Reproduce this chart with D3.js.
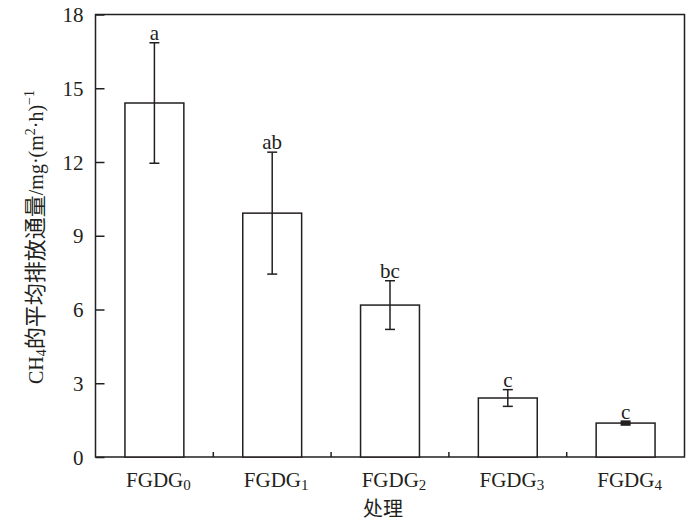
<!DOCTYPE html>
<html><head><meta charset="utf-8">
<script src="https://cdn.jsdelivr.net/npm/d3@7"></script>
<style>body{margin:0;background:#fff}svg{display:block}</style>
</head><body>
<svg id="c" width="700" height="524"></svg>
<script>
const categories = ["FGDG0","FGDG1","FGDG2","FGDG3","FGDG4"];
const subs = ["0","1","2","3","4"];
const means = [14.4, 9.92, 6.18, 2.4, 1.38];
const errors = [2.45, 2.48, 0.99, 0.34, 0.05];
const letters = ["a","ab","bc","c","c"];
const yTicks = [0,3,6,9,12,15,18];

const svg = d3.select("#c");
const m = {l:95.5, r:684.5, t:14.5, b:457};
const x = d3.scaleBand().domain(categories).range([m.l, m.r]).paddingInner(0.5).paddingOuter(0.25);
const y = d3.scaleLinear().domain([0,18]).range([m.b, m.t]);
const font = "'Liberation Serif','Times New Roman',serif";
const cjk = "'Noto Sans CJK SC',sans-serif";
const col = "#231f20";

// frame
svg.append("rect").attr("x",m.l).attr("y",m.t).attr("width",m.r-m.l).attr("height",m.b-m.t)
  .attr("fill","none").attr("stroke",col).attr("stroke-width",1.5);

// y axis
const ya = svg.append("g").attr("transform",`translate(${m.l},0)`)
  .call(d3.axisRight(y).tickValues(yTicks).tickSize(9).tickFormat(d3.format("d")));
ya.select(".domain").remove();
ya.selectAll("line").attr("stroke",col).attr("stroke-width",1.5);
ya.selectAll("text").attr("x",-12).attr("text-anchor","end").attr("font-family",font).attr("font-size",21).attr("fill",col).attr("dy","0.34em");

// x ticks between categories
const step = x.step();
const bounds = categories.slice(1).map(c => x(c) - x.paddingInner()*step/2);
svg.append("g").selectAll("line").data(bounds).join("line")
  .attr("x1",d=>d).attr("x2",d=>d).attr("y1",m.b).attr("y2",m.b-5)
  .attr("stroke",col).attr("stroke-width",1.5);

// bars
svg.append("g").selectAll("rect").data(categories).join("rect")
  .attr("x",d=>x(d)).attr("width",x.bandwidth())
  .attr("y",(d,i)=>y(means[i])).attr("height",(d,i)=>y(0)-y(means[i]))
  .attr("fill","#fff").attr("stroke",col).attr("stroke-width",1.5);

// error bars
const eg = svg.append("g").attr("stroke",col).attr("stroke-width",1.5);
categories.forEach((c,i)=>{
  const cx = x(c)+x.bandwidth()/2;
  const hi = y(means[i]+errors[i]), lo = y(means[i]-errors[i]);
  const sw = errors[i] < 0.1 ? 3 : 1.5;
  eg.append("line").attr("x1",cx).attr("x2",cx).attr("y1",hi).attr("y2",lo).attr("stroke-width",sw);
  [hi,lo].forEach(v=>eg.append("line").attr("x1",cx-5).attr("x2",cx+5).attr("y1",v).attr("y2",v).attr("stroke-width",sw));
  svg.append("text").attr("x",cx).attr("y",hi-3).attr("text-anchor","middle")
    .attr("font-family",font).attr("font-size",21).attr("fill",col).text(letters[i]);
});

// x labels
categories.forEach((c,i)=>{
  const t = svg.append("text").attr("x",x(c)+x.bandwidth()/2+4).attr("y",487).attr("text-anchor","middle")
    .attr("font-family",font).attr("font-size",21).attr("fill",col);
  t.append("tspan").text("FGDG");
  t.append("tspan").attr("dy",3).attr("font-size",15).text(subs[i]);
});

// x title
svg.append("text").attr("x",(m.l+m.r)/2-7).attr("y",516).attr("text-anchor","middle")
  .attr("font-family",cjk).attr("font-size",20).attr("fill",col).text("处理");

// y title
const yt = svg.append("text").attr("transform","translate(43,237) rotate(-90)").attr("text-anchor","middle")
  .attr("font-family",font).attr("font-size",20).attr("fill",col);
yt.append("tspan").text("CH");
yt.append("tspan").attr("dy",3).attr("font-size",14).text("4");
yt.append("tspan").attr("dy",-3).attr("font-family",cjk).attr("font-size",22).text("的平均排放通量");
yt.append("tspan").text("/mg·(m");
yt.append("tspan").attr("dy",-8).attr("font-size",14).text("2");
yt.append("tspan").attr("dy",8).text("·h)");
yt.append("tspan").attr("dy",-9).attr("font-size",14).text("−1");
</script>
</body></html>
